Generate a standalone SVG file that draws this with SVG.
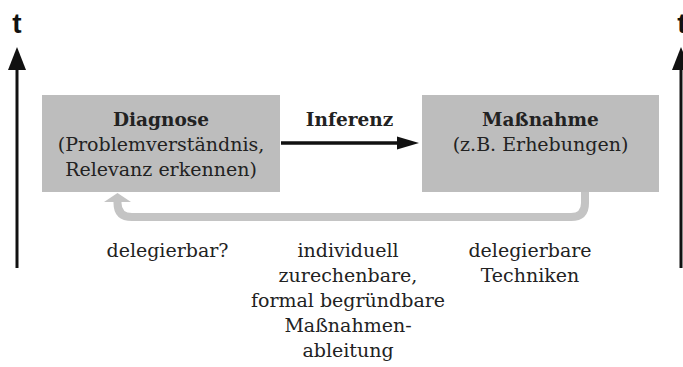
<svg xmlns="http://www.w3.org/2000/svg" width="683" height="367" viewBox="0 0 683 367">
<style>
.box{fill:#bdbdbd}
.t{font-family:"DejaVu Serif","Liberation Serif",serif;font-size:19px;fill:#222;text-anchor:middle}
.b{font-weight:bold;font-size:18.5px}
.ax{font-family:"Liberation Sans",Arial,sans-serif;font-weight:bold;font-size:28px;fill:#111;text-anchor:middle}
.axl{stroke:#111;stroke-width:3;fill:none}
</style>
<rect width="683" height="367" fill="#fff"/>
<g id="axis-left">
<text class="ax" x="17" y="33">t</text>
<line class="axl" x1="17" y1="268" x2="17" y2="66"/>
<polygon points="17,47 8,70 26,70" fill="#111"/>
</g>
<g id="axis-right">
<text class="ax" x="682" y="33">t</text>
<line class="axl" x1="681" y1="268" x2="681" y2="66"/>
<polygon points="681,47 672,70 690,70" fill="#111"/>
</g>
<g id="diagnose">
<rect class="box" x="42" y="95" width="238" height="97"/>
<text class="t b" x="161" y="126">Diagnose</text>
<text class="t" x="161" y="151">(Problemverständnis,</text>
<text class="t" x="161" y="176">Relevanz erkennen)</text>
</g>
<g id="massnahme">
<rect class="box" x="422" y="95" width="237" height="97"/>
<text class="t b" x="540.5" y="126">Maßnahme</text>
<text class="t" x="540.5" y="151">(z.B. Erhebungen)</text>
</g>
<g id="connectors">
<line x1="281" y1="143" x2="400" y2="143" stroke="#111" stroke-width="3.5"/>
<polygon points="419,143 397,136.5 397,149.5" fill="#111"/>
<text class="t b" x="349.5" y="126">Inferenz</text>
<path d="M585,192 V203 Q585,217 571,217 H132 Q117.5,217 117.5,203 V200" fill="none" stroke="#c4c4c4" stroke-width="8"/>
<polygon points="117.5,193 104,202 131,202" fill="#c4c4c4"/>
</g>
<g id="labels">
<text class="t" x="167.5" y="257">delegierbar?</text>
<text class="t" x="348" y="257">individuell</text>
<text class="t" x="348" y="282">zurechenbare,</text>
<text class="t" x="348" y="307">formal begründbare</text>
<text class="t" x="348" y="332">Maßnahmen-</text>
<text class="t" x="348" y="357">ableitung</text>
<text class="t" x="530" y="257">delegierbare</text>
<text class="t" x="530" y="282">Techniken</text>
</g>
</svg>
